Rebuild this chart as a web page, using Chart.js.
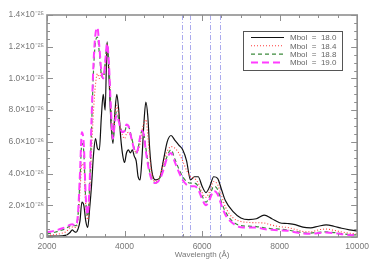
<!DOCTYPE html>
<html><head><meta charset="utf-8">
<script src="https://cdn.jsdelivr.net/npm/chart.js@4.4.1/dist/chart.umd.min.js"></script>
<style>html,body{margin:0;padding:0;background:#fff}#wrap{width:374px;height:267px;position:relative}</style>
</head><body><div id="wrap"><canvas id="c" width="374" height="267"></canvas></div>
<script>
// Wavelength grid (Angstrom)
const wavelengths = [
  2000,2200,2400,2500,2600,2650,2700,2750,2800,2850,
  2900,2950,3000,3050,3100,3150,3200,3250,3300,3350,
  3400,3450,3500,3550,3600,3650,3700,3750,3800,3850,
  3900,3950,4000,4050,4100,4150,4200,4250,4300,4350,
  4400,4450,4500,4550,4600,4650,4700,4750,4800,4900,
  5000,5100,5200,5300,5400,5500,5600,5700,5800,5900,
  6000,6100,6200,6300,6400,6500,6600,6800,7000,7200,
  7400,7600,7800,8000,8200,8400,8600,8800,9000,9200,
  9400,9600,9800,10000
];
// Flux values in units of 1e-26
const fluxMbol180 = [
  0.05,0.05,0.08,0.12,0.3,0.45,0.35,0.3,0.5,1.0,
  2.2,2.0,1.0,0.6,1.8,3.3,5.2,6.2,5.6,5.5,
  7.5,9.0,8.0,12.3,10.0,7.2,5.9,7.8,9.0,8.0,
  6.3,5.2,4.7,5.3,5.5,5.3,5.5,5.1,4.8,3.8,
  3.6,5.0,7.2,8.5,7.6,5.5,4.2,3.7,3.6,3.7,
  4.8,6.0,6.4,6.1,5.8,5.5,4.8,3.6,3.8,3.8,
  3.2,2.8,3.2,3.8,3.7,3.0,2.3,1.6,1.2,1.1,
  1.15,1.38,1.15,0.9,0.85,0.78,0.62,0.58,0.68,0.76,
  0.68,0.55,0.45,0.38
];
const fluxMbol184 = [
  0.1,0.15,0.25,0.35,0.6,0.63,0.6,0.6,1.1,2.8,
  4.6,4.4,2.0,1.1,2.8,5.5,8.0,9.6,10.3,10.0,
  10.4,10.2,10.6,12.2,10.6,8.0,6.5,7.6,8.3,7.6,
  6.8,6.4,6.2,6.5,6.6,6.4,6.0,5.6,5.3,5.4,
  5.9,6.7,7.2,7.4,6.4,5.0,4.0,3.6,3.5,3.8,
  4.6,5.4,5.7,5.6,5.3,4.8,4.2,3.8,3.7,3.4,
  2.8,2.5,2.9,3.5,3.3,2.6,1.9,1.2,0.98,0.92,
  0.9,0.88,0.75,0.65,0.6,0.48,0.35,0.32,0.45,0.5,
  0.42,0.32,0.24,0.19
];
const fluxMbol188 = [
  0.2,0.3,0.45,0.55,0.72,0.75,0.72,0.72,1.4,3.6,
  5.9,5.3,2.3,1.3,3.3,7.0,10.5,12.3,12.6,11.6,
  10.3,10.0,11.0,12.2,10.8,8.0,6.1,7.4,7.9,7.4,
  6.9,6.6,6.6,7.0,7.0,6.6,6.1,5.6,5.3,5.6,
  6.3,6.7,6.5,5.6,4.8,4.1,3.7,3.5,3.4,3.7,
  4.3,5.1,5.5,4.9,4.3,3.8,3.5,3.4,3.4,3.2,
  2.6,2.2,2.6,3.2,3.0,2.2,1.6,0.95,0.72,0.68,
  0.66,0.58,0.52,0.5,0.45,0.35,0.27,0.25,0.3,0.32,
  0.28,0.22,0.15,0.13
];
const fluxMbol190 = [
  0.3,0.4,0.55,0.65,0.78,0.8,0.75,0.75,1.5,4.0,
  6.6,5.8,2.5,1.4,3.5,7.5,11.0,12.8,13.2,12.0,
  10.5,10.0,11.0,12.2,10.8,8.0,6.2,7.2,7.7,7.3,
  6.8,6.6,6.7,7.1,7.0,6.5,6.0,5.5,5.3,5.6,
  6.3,6.7,6.4,5.4,4.6,4.0,3.6,3.4,3.4,3.6,
  4.2,5.0,5.3,4.7,4.1,3.6,3.3,3.2,3.2,3.0,
  2.4,2.0,2.4,2.9,2.7,2.0,1.4,0.85,0.62,0.6,
  0.6,0.5,0.45,0.42,0.4,0.3,0.22,0.2,0.25,0.28,
  0.25,0.18,0.12,0.1
];
const seriesLabels = ['Mbol = 18.0','Mbol = 18.4','Mbol = 18.8','Mbol = 19.0'];
const markerWavelengths = [5480, 5690, 6195, 6450];
const xTickValues = [2000, 4000, 6000, 8000, 10000];
const yTickValues = [0, 2, 4, 6, 8, 10, 12, 14];

const styles = [
  {color:'#111111', width:1.2, dash:[], order:4},
  {color:'#ff3b3b', width:1.1, dash:[1,2], order:3},
  {color:'#3d8a3d', width:1.2, dash:[4,3], order:2},
  {color:'#ff3cff', width:2, dash:[7,4], order:1}
];
const allFlux = [fluxMbol180, fluxMbol184, fluxMbol188, fluxMbol190];

const sup = {'0':'⁰','1':'¹','2':'²','3':'³','4':'⁴','5':'⁵','6':'⁶','7':'⁷','8':'⁸','9':'⁹','-':'⁻'};
function fmtY(v){
  if (v === 0) return '0';
  let e = -26, m = v;
  while (m >= 10) { m /= 10; e += 1; }
  return m.toFixed(1) + '×10' + String(e).split('').map(c=>sup[c]).join('');
}

const AXIS = '#8f8f8f';
const FONT = '"Liberation Sans", Arial, sans-serif';
const framePlugin = {
  id:'frame',
  beforeDatasetsDraw(chart){
    const {ctx, chartArea:a, scales:{x}} = chart;
    ctx.save();
    ctx.strokeStyle = '#aaaaee'; ctx.lineWidth = 1; ctx.setLineDash([5,2,1,2]);
    markerWavelengths.forEach(w=>{
      const px = Math.round(x.getPixelForValue(w)) + 0.5;
      ctx.beginPath(); ctx.moveTo(px, a.top); ctx.lineTo(px, a.bottom); ctx.stroke();
    });
    ctx.restore();
  },
  afterDatasetsDraw(chart){
    const {ctx, chartArea:a, scales:{x,y}} = chart;
    ctx.save();
    ctx.strokeStyle = AXIS; ctx.lineWidth = 1; ctx.setLineDash([]);
    for (let w = 2000; w <= 10000; w += 500) {
      const px = Math.round(x.getPixelForValue(w)) + 0.5;
      const L = (w % 2000 === 0) ? 6 : 3;
      ctx.beginPath();
      ctx.moveTo(px, a.bottom); ctx.lineTo(px, a.bottom - L);
      ctx.moveTo(px, a.top); ctx.lineTo(px, a.top + L);
      ctx.stroke();
    }
    for (let v = 0; v <= 14; v += 0.5) {
      const py = Math.round(y.getPixelForValue(v)) + 0.5;
      const L = (v % 2 === 0) ? 6 : 3;
      ctx.beginPath();
      ctx.moveTo(a.left, py); ctx.lineTo(a.left + L, py);
      ctx.moveTo(a.right, py); ctx.lineTo(a.right - L, py);
      ctx.stroke();
    }
    ctx.lineWidth = 1.6;
    ctx.strokeRect(a.left, a.top, a.right - a.left, a.bottom - a.top);
    // legend
    const lx = 243.5, ly = 31.5, lw = 99, lh = 39;
    ctx.fillStyle = '#fff'; ctx.fillRect(lx, ly, lw, lh);
    ctx.strokeStyle = '#555'; ctx.lineWidth = 1; ctx.strokeRect(lx, ly, lw, lh);
    ctx.font = '8px ' + FONT;
    ctx.textBaseline = 'middle';
    chart.data.datasets.forEach((ds, i)=>{
      const ry = 37.5 + i * 8.3;
      ctx.save();
      ctx.strokeStyle = ds.borderColor; ctx.lineWidth = ds.borderWidth; ctx.setLineDash(ds.borderDash || []);
      ctx.beginPath(); ctx.moveTo(251, ry); ctx.lineTo(284, ry); ctx.stroke();
      ctx.restore();
      ctx.fillStyle = '#666';
      ctx.fillText(ds.label.replace(/ = /, '  =  '), 290, ry + 0.5);
    });
    ctx.restore();
  }
};

const datasets = allFlux.map((arr, i)=>({
  label: seriesLabels[i],
  data: wavelengths.map((w, j)=>({x:w, y:arr[j]})),
  borderColor: styles[i].color,
  borderWidth: styles[i].width,
  borderDash: styles[i].dash,
  order: styles[i].order,
  pointRadius: 0,
  fill: false,
  cubicInterpolationMode: 'monotone',
  tension: 0.4
}));

new Chart(document.getElementById('c'), {
  type:'line',
  data:{datasets},
  options:{
    responsive:false, animation:false, devicePixelRatio:1,
    layout:{padding:{top:15, right:14, left:0, bottom:0}},
    plugins:{legend:{display:false}, tooltip:{enabled:false}},
    scales:{
      x:{
        type:'linear', min:2000, max:10000,
        afterBuildTicks(s){ s.ticks = xTickValues.map(v=>({value:v})); },
        afterFit(s){ s.height = 30; },
        grid:{display:false, drawTicks:false}, border:{display:false},
        ticks:{color:'#777', font:{size:8.5, family:FONT}, padding:5, maxRotation:0, autoSkip:false, callback:(v)=>String(v)},
        title:{display:true, text:'Wavelength (Å)', color:'#777', font:{size:8, family:FONT}, padding:{top:0, bottom:7}}
      },
      y:{
        type:'linear', min:0, max:14,
        afterBuildTicks(s){ s.ticks = yTickValues.map(v=>({value:v})); },
        afterFit(s){ s.width = 47; },
        grid:{display:false, drawTicks:false}, border:{display:false},
        ticks:{color:'#777', font:{size:8.5, family:FONT}, padding:3, callback:(v)=>fmtY(v)}
      }
    }
  },
  plugins:[framePlugin]
});
</script></body></html>
